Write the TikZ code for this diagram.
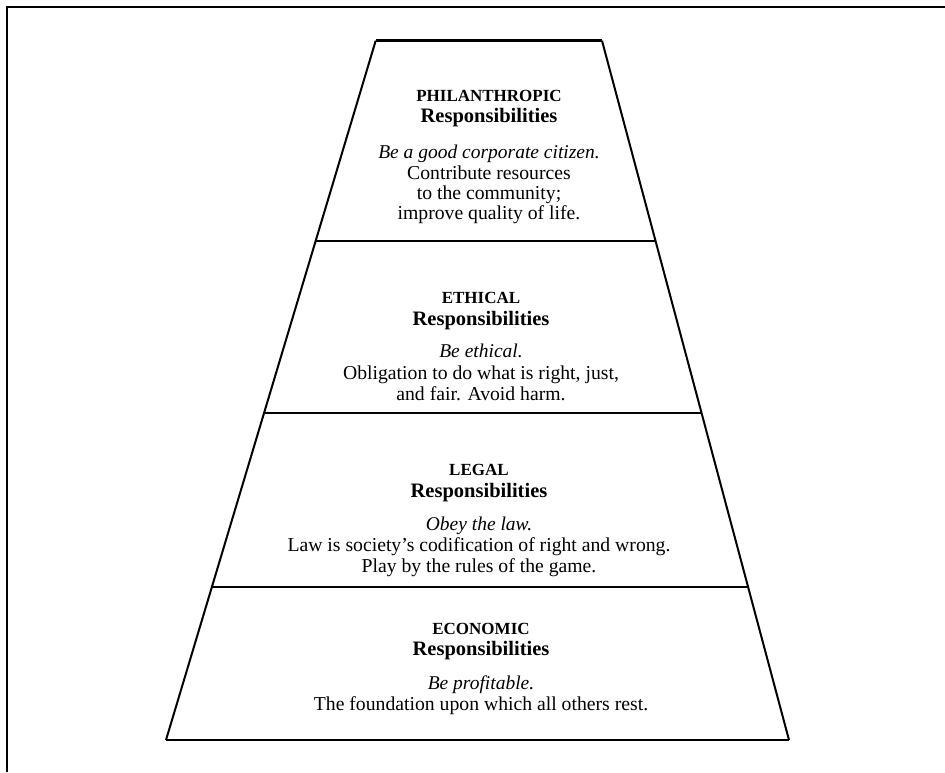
\documentclass[tikz,border=0pt]{standalone}
\usepackage{fontspec}
\setmainfont{Liberation Serif}
\usetikzlibrary{calc}
\tikzset{
  frameline/.style={line width=2.2pt},
  edgeline/.style={line width=2pt, line join=miter},
  capline/.style={line width=2.8pt},
  sepline/.style={line width=2.2pt},
  capstext/.style={anchor=base, inner sep=0pt, font=\fontsize{17}{20}\selectfont\bfseries},
  resptext/.style={anchor=base, inner sep=0pt, font=\fontsize{20.5}{22}\selectfont\bfseries},
  slogantext/.style={anchor=base, inner sep=0pt, font=\fontsize{19.5}{22}\selectfont\itshape},
  bodytext/.style={anchor=base, inner sep=0pt, font=\fontsize{19.7}{22}\selectfont},
}
\begin{document}
\begin{tikzpicture}[x=1pt,y=-1pt]
\useasboundingbox (0,0) rectangle (945,772);
% outer frame (top and left only visible)
\coordinate (fbl) at (7,772);
\coordinate (ftl) at (7,7);
\coordinate (ftr) at (945,7);
\draw[frameline] (fbl) -- (ftl) -- (ftr);
% pyramid corners
\coordinate (A) at (375.7,40.7);
\coordinate (B) at (602,40.7);
\coordinate (C) at (789,740);
\coordinate (D) at (166,740);
\coordinate (L1) at ($(A)!0.2864!(D)$);
\coordinate (R1) at ($(B)!0.2864!(C)$);
\coordinate (L2) at ($(A)!0.5324!(D)$);
\coordinate (R2) at ($(B)!0.5324!(C)$);
\coordinate (L3) at ($(A)!0.7812!(D)$);
\coordinate (R3) at ($(B)!0.7812!(C)$);
\draw[edgeline] (A) -- (D);
\draw[edgeline] (B) -- (C);
\draw[capline] (A) -- (B);
\draw[capline] (D) -- (C);
\draw[sepline] (L1) -- (R1);
\draw[sepline] (L2) -- (R2);
\draw[sepline] (L3) -- (R3);
% tier 1
\node[capstext]   (p1) at (489,101) {PHILANTHROPIC};
\node[resptext]   (p2) at (489,122) {Responsibilities};
\node[slogantext] (p3) at (489,158) {Be a good corporate citizen.};
\node[bodytext]   (p4) at (489,179) {Contribute resources};
\node[bodytext]   (p5) at (489,199) {to the community;};
\node[bodytext]   (p6) at (489,219) {improve quality of life.};
% tier 2
\node[capstext]   (e1) at (481,303) {ETHICAL};
\node[resptext]   (e2) at (481,325) {Responsibilities};
\node[slogantext] (e3) at (481,357) {Be ethical.};
\node[bodytext]   (e4) at (481,379) {Obligation to do what is right, just,};
\node[bodytext]   (e5) at (481,400) {and fair. Avoid harm.};
% tier 3
\node[capstext]   (l1) at (479,475) {LEGAL};
\node[resptext]   (l2) at (479,497) {Responsibilities};
\node[slogantext] (l3) at (479,530) {Obey the law.};
\node[bodytext]   (l4) at (479,551) {Law is society's codification of right and wrong.};
\node[bodytext]   (l5) at (479,572) {Play by the rules of the game.};
% tier 4
\node[capstext]   (c1) at (481,634) {ECONOMIC};
\node[resptext]   (c2) at (481,655) {Responsibilities};
\node[slogantext] (c3) at (481,689) {Be profitable.};
\node[bodytext]   (c4) at (481,710) {The foundation upon which all others rest.};
\end{tikzpicture}
\end{document}
